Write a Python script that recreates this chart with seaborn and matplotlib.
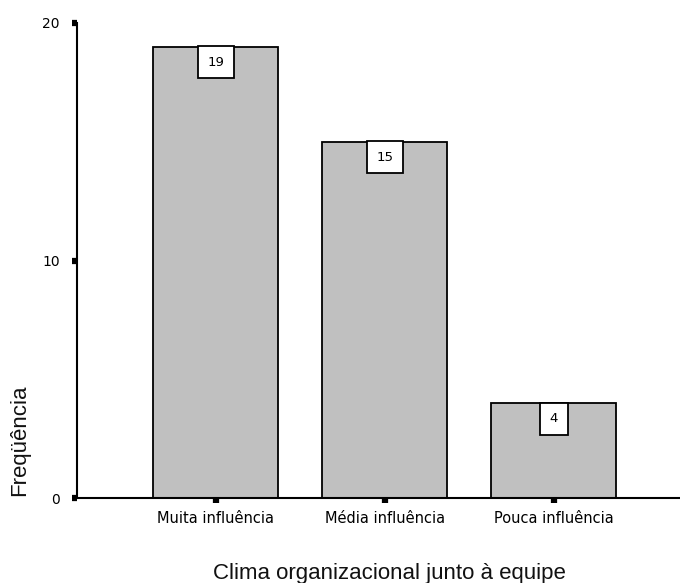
import matplotlib
matplotlib.use("Agg")
import matplotlib.pyplot as plt
import seaborn as sns
import pandas as pd

categories = ["Muita influência", "Média influência", "Pouca influência"]
counts = [19, 15, 4]
y_ticks = [0, 10, 20]

df = pd.DataFrame({"categoria": categories, "freq": counts})

sns.set_style("white")
plt.rcParams["font.family"] = ["DejaVu Sans"]
plt.rcParams["text.color"] = "black"
plt.rcParams["xtick.color"] = "black"
plt.rcParams["ytick.color"] = "black"

fig = plt.figure(figsize=(6.8, 5.83), dpi=100)
ax = fig.add_axes([77 / 680, 1 - 498 / 583, 603 / 680, 475 / 583])

sns.barplot(data=df, x="categoria", y="freq", color="#c0c0c0", saturation=1,
            width=0.74, edgecolor="black", linewidth=1.3, ax=ax)

ax.set_xlim(-0.822, 2.746)
ax.set_ylim(0, 20)
ax.set_yticks(y_ticks)
ax.set_yticklabels([str(v) for v in y_ticks])

for s in ["top", "right"]:
    ax.spines[s].set_visible(False)
for s in ["left", "bottom"]:
    ax.spines[s].set_color("black")
    ax.spines[s].set_linewidth(1.5)
ax.spines["left"].set_bounds(0, 20)

# small square tick marks
ax.tick_params(axis="y", left=True, direction="out", length=3.5, width=4.5,
               color="black", labelsize=10, pad=9)
ax.tick_params(axis="x", bottom=True, direction="out", length=3.5, width=4.5,
               color="black", labelsize=10.5, pad=6)

# value boxes at the top of each bar
for i, v in enumerate(counts):
    ax.annotate(str(v), xy=(i, v), xytext=(0, -6.5), textcoords="offset points",
                ha="center", va="top", fontsize=9.5,
                bbox=dict(boxstyle="square,pad=0.72", facecolor="white",
                          edgecolor="black", linewidth=1.3))

ax.set_xlabel("")
ax.set_ylabel("")
fig.text(389 / 680, 1 - 573 / 583, "Clima organizacional junto à equipe",
         ha="center", va="center", fontsize=16, family="Liberation Sans",
         color="#111111")
fig.text(19.5 / 680, 1 - 440 / 583, "Freqüência", rotation=90,
         ha="center", va="center", fontsize=16, family="Liberation Sans",
         color="#111111")

fig.savefig("out.png", dpi=100, facecolor="white")
